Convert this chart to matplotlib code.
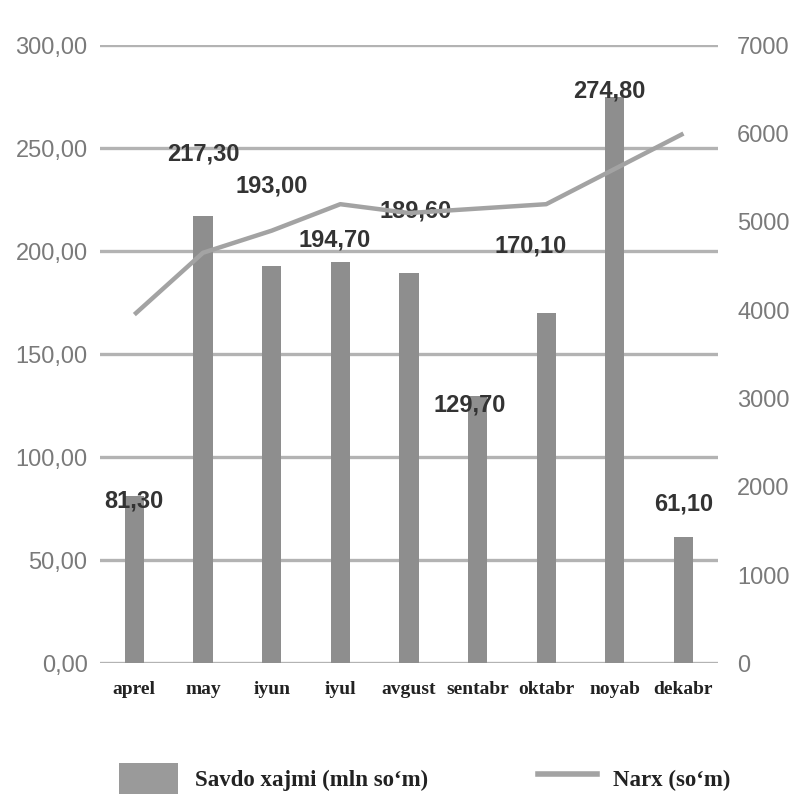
import matplotlib
matplotlib.use("Agg")
import matplotlib.pyplot as plt
from matplotlib.patches import Patch
from matplotlib.lines import Line2D
from matplotlib.ticker import FuncFormatter

months = ["aprel", "may", "iyun", "iyul", "avgust", "sentabr", "oktabr", "noyab", "dekabr"]
savdo = [81.30, 217.30, 193.00, 194.70, 189.60, 129.70, 170.10, 274.80, 61.10]
narx = [3950, 4650, 4900, 5200, 5100, 5150, 5200, 5600, 6000]
left_ticks = [0, 50, 100, 150, 200, 250, 300]
right_ticks = [0, 1000, 2000, 3000, 4000, 5000, 6000, 7000]
label_savdo = "Savdo xajmi (mln so\u2018m)"
label_narx = "Narx (so\u2018m)"

# data-label offsets (points), styling only
label_dy = [-16, 32, 45, 4, 32, -19, 36, -8, 12]
label_dx = [0, 0, 0, -4, 5, -6, -11, -4, 0]

SANS = ["Liberation Sans", "DejaVu Sans"]
SERIF = ["Liberation Serif", "DejaVu Serif"]

fig = plt.figure(figsize=(7.94, 8.08), dpi=100)
ax = fig.add_axes([0.126, 0.179, 0.778, 0.765])
ax2 = ax.twinx()

x = list(range(len(months)))
ax.bar(x, savdo, width=0.28, color="#8e8e8e", zorder=3)
ax2.plot(x, narx, color="#a3a3a3", lw=3.2, solid_capstyle="butt", zorder=4)

ax.set_xlim(-0.5, len(months) - 0.5)
ax.set_ylim(0, 300)
ax2.set_ylim(0, 7000)
ax.set_yticks(left_ticks)
ax2.set_yticks(right_ticks)
ax.yaxis.set_major_formatter(FuncFormatter(lambda v, p: f"{v:.2f}".replace(".", ",")))
ax2.yaxis.set_major_formatter(FuncFormatter(lambda v, p: f"{int(v)}"))

for a in (ax, ax2):
    for s in a.spines.values():
        s.set_visible(False)

ax.set_axisbelow(True)
ax.yaxis.grid(True, color="#b3b3b3", lw=2.4)
ax.tick_params(axis="y", length=0, pad=9, labelsize=17, labelcolor="#7a7a7a")
ax2.tick_params(axis="y", length=0, pad=14, labelsize=17, labelcolor="#7a7a7a")
for lab in ax.get_yticklabels() + ax2.get_yticklabels():
    lab.set_family(SANS)

ax.set_xticks(x)
ax.set_xticklabels(months, family=SERIF, fontweight="bold", fontsize=14, color="#222222")
ax.tick_params(axis="x", length=0, pad=13)

for i, v in enumerate(savdo):
    ax.annotate(f"{v:.2f}".replace(".", ","), (i, v), xytext=(label_dx[i], 4 + label_dy[i]),
                textcoords="offset points", ha="center", va="bottom",
                family=SANS, fontweight="bold", fontsize=17, color="#333333", zorder=5)

handles = [Patch(facecolor="#9a9a9a", edgecolor="none"),
           Line2D([0], [0], color="#a3a3a3", lw=4)]
fig.legend(handles, [label_savdo, label_narx], loc="center", bbox_to_anchor=(0.535, 0.037),
           ncol=2, frameon=False, prop={"family": SERIF, "weight": "bold", "size": 16.5},
           handlelength=2.6, handleheight=1.7, columnspacing=4.8, handletextpad=0.7,
           labelcolor="#222222")

fig.savefig("out.png", dpi=100, facecolor="white")
